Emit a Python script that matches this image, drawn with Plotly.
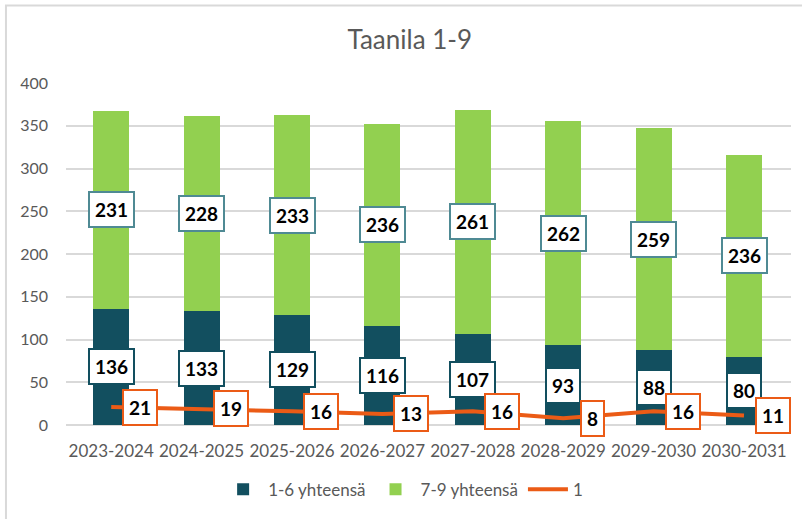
import plotly.graph_objects as go

categories = ["2023-2024", "2024-2025", "2025-2026", "2026-2027",
              "2027-2028", "2028-2029", "2029-2030", "2030-2031"]
grade_1_6 = [136, 133, 129, 116, 107, 93, 88, 80]
grade_7_9 = [231, 228, 233, 236, 261, 262, 259, 236]
grade_1 = [21, 19, 16, 13, 16, 8, 16, 11]
y_ticks = [0, 50, 100, 150, 200, 250, 300, 350, 400]

DARK = "#124f5f"
GREEN = "#92d050"
ORANGE = "#eb5b16"
GRAY = "#595959"
FONT = "Lato"

fig = go.Figure()
fig.add_trace(go.Bar(name="1-6 yhteensä", x=categories, y=grade_1_6,
                     marker=dict(color=DARK, line=dict(width=0))))
fig.add_trace(go.Bar(name="7-9 yhteensä", x=categories, y=grade_7_9,
                     marker=dict(color=GREEN, line=dict(width=0))))
fig.add_trace(go.Scatter(name="1", x=categories, y=grade_1, mode="lines",
                         line=dict(color=ORANGE, width=4)))

ann = []
lab_font = dict(family=FONT, size=19, color="black")
for c, a, b, l in zip(categories, grade_1_6, grade_7_9, grade_1):
    ann.append(dict(x=c, y=a / 2, xref="x", yref="y", text="<b>%d</b>" % a,
                    showarrow=False, font=lab_font, bgcolor="white",
                    bordercolor=DARK, borderwidth=2, borderpad=5))
    ann.append(dict(x=c, y=a + b / 2, xref="x", yref="y", text="<b>%d</b>" % b,
                    showarrow=False, font=lab_font, bgcolor="white",
                    bordercolor="#4f8a94", borderwidth=2, borderpad=5))
    ann.append(dict(x=c, y=l, xref="x", yref="y", text="<b>%d</b>" % l,
                    showarrow=False, font=lab_font, bgcolor="white",
                    bordercolor=ORANGE, borderwidth=2, borderpad=5, xshift=29))

fig.update_layout(
    width=802, height=519,
    margin=dict(l=66, r=11, t=83, b=92),
    paper_bgcolor="white", plot_bgcolor="white",
    barmode="stack", bargap=0.6,
    font=dict(family=FONT, color=GRAY, size=16),
    title=dict(text="Taanila 1-9", x=0.511, xanchor="center", y=0.923, yanchor="middle",
               font=dict(family=FONT, size=26, color=GRAY)),
    showlegend=True,
    legend=dict(orientation="h", x=0.465, xanchor="center", y=-0.189, yanchor="middle",
                font=dict(family=FONT, size=17, color=GRAY), traceorder="normal",
                itemwidth=40),
    annotations=ann,
    shapes=[dict(type="rect", xref="paper", yref="paper",
                 x0=-0.0828, x1=1.02, y0=-0.3, y1=1.2267,
                 line=dict(color="#d9d9d9", width=2), layer="below")],
)
fig.update_xaxes(showgrid=False, showline=False, ticks="", ticklabelstandoff=14,
                 tickfont=dict(size=17, color=GRAY))
fig.update_yaxes(range=[0, 400], tickvals=y_ticks, showgrid=True, gridcolor="#d9d9d9",
                 gridwidth=1.5, zeroline=True, zerolinecolor="#d9d9d9", zerolinewidth=1.5,
                 showline=False, ticks="", ticklen=0, ticklabelstandoff=17,
                 tickfont=dict(size=16, color=GRAY))

fig.write_html("out.html", config={"displayModeBar": False},
               post_script="document.body.style.margin='0';")
